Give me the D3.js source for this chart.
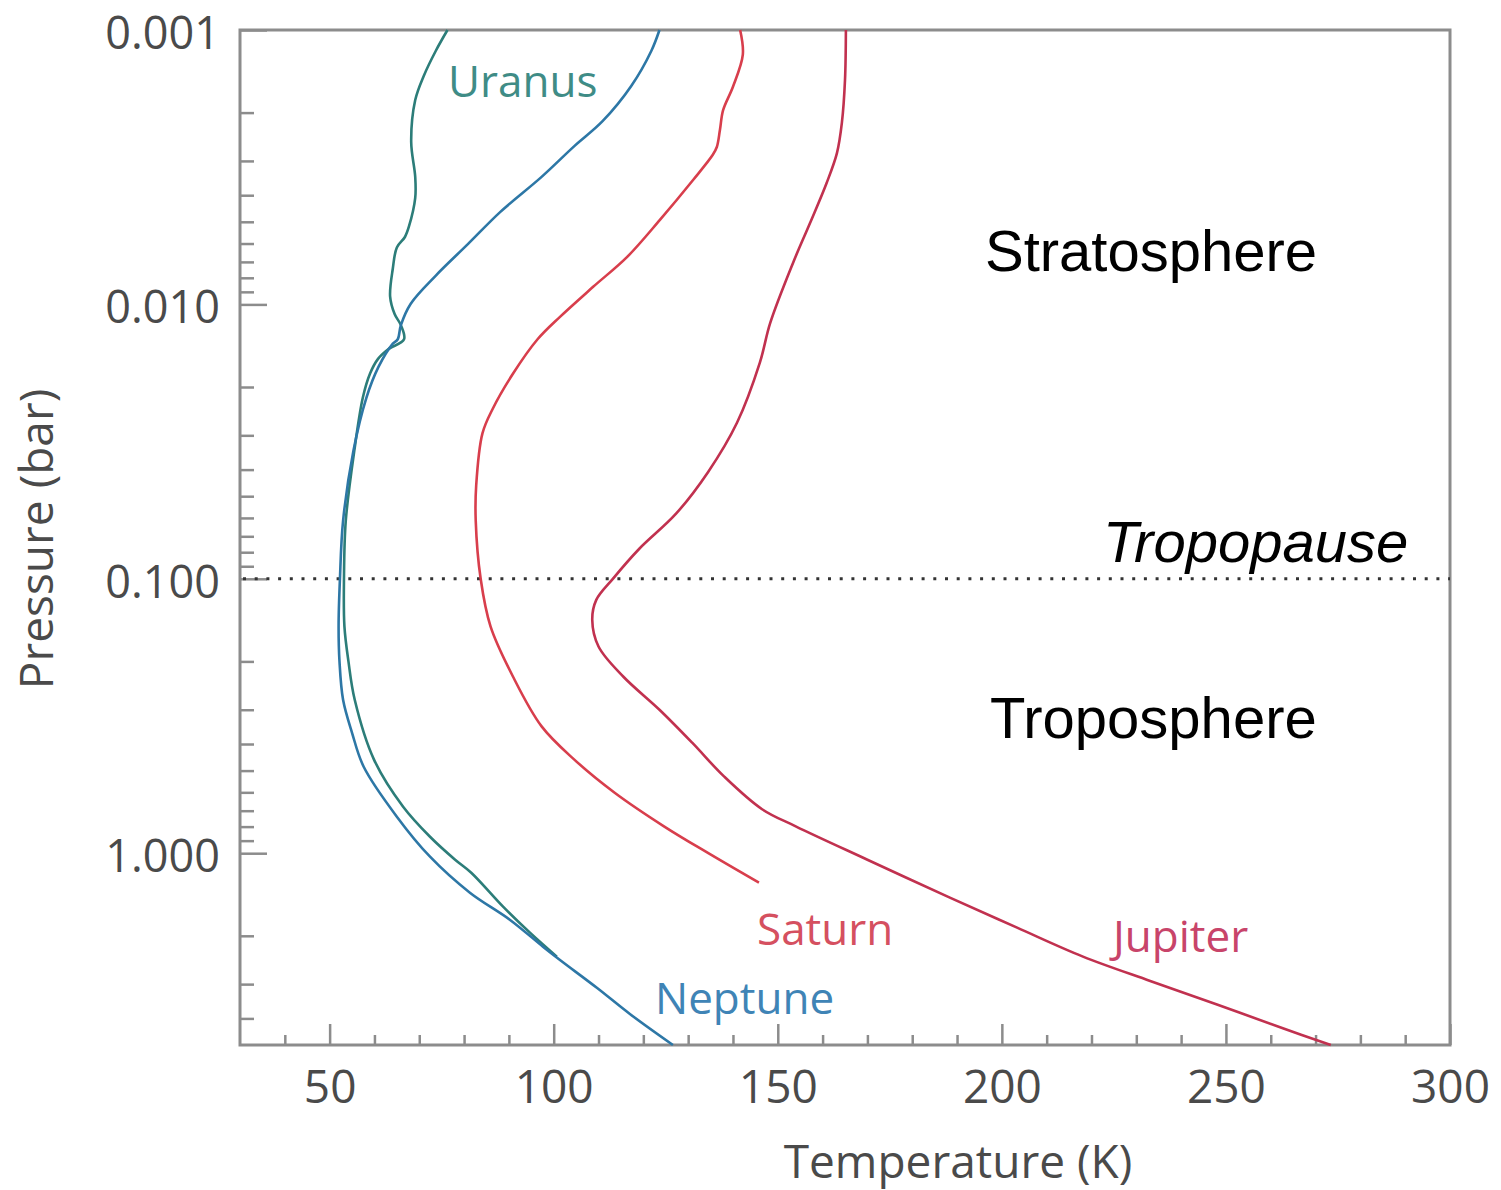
<!DOCTYPE html>
<html>
<head>
<meta charset="utf-8">
<script src="https://cdn.jsdelivr.net/npm/d3@7"></script>
<style>
  html, body { margin: 0; padding: 0; background: #ffffff; }
  svg { display: block; }
</style>
</head>
<body>
<svg id="chart" width="1501" height="1190"></svg>
<script>
// ---------- data: [temperature K, pressure bar] ----------
const uranus = [
  [76.3, 0.0010], [73.7, 0.00119], [71.0, 0.00147], [69.1, 0.0018], [68.2, 0.00256],
  [69.1, 0.00343], [69.1, 0.00409], [67.7, 0.0052], [66.8, 0.00568], [65.0, 0.0062],
  [64.1, 0.0074], [63.5, 0.00937], [64.5, 0.01084], [65.9, 0.0119], [66.6, 0.0134],
  [63.0, 0.0146], [60.8, 0.0158], [59.0, 0.0179], [57.4, 0.0219], [55.5, 0.0342],
  [53.6, 0.0615], [53.2, 0.1], [53.3, 0.149], [54.2, 0.2], [55.6, 0.276],
  [59.9, 0.456], [66.4, 0.677], [72.4, 0.871], [78.0, 1.056], [81.6, 1.178],
  [88.7, 1.566], [94.7, 1.948], [100.7, 2.382]
];
const neptune = [
  [123.6, 0.0010], [121.8, 0.00119], [117.3, 0.0016], [110.9, 0.00215], [104.6, 0.00265],
  [97.3, 0.00343], [88.1, 0.0046], [80.9, 0.00602], [73.7, 0.00785], [68.1, 0.00994],
  [65.9, 0.0119], [65.2, 0.0134], [64.1, 0.0139], [60.9, 0.0169], [58.2, 0.0219],
  [55.3, 0.0342], [53.0, 0.0615], [52.3, 0.1], [52.0, 0.149], [52.2, 0.2],
  [53.0, 0.276], [55.0, 0.364], [57.6, 0.484], [65.0, 0.736], [72.4, 1.03],
  [81.3, 1.393], [90.2, 1.747], [97.6, 2.191], [101.4, 2.45], [109.7, 3.10],
  [117.0, 3.855], [126.6, 5.0]
];
const saturn = [
  [141.6, 0.0010], [142.2, 0.00123], [140.0, 0.00161], [137.8, 0.00196], [137.1, 0.00231],
  [136.4, 0.00267], [135.5, 0.00285], [131.1, 0.00352], [123.7, 0.00492], [116.4, 0.00671],
  [108.8, 0.00863], [101.4, 0.0111], [96.4, 0.0134], [90.9, 0.0179], [86.4, 0.024],
  [84.1, 0.0295], [82.7, 0.0458], [82.6, 0.0615], [83.7, 0.1], [85.9, 0.149],
  [90.9, 0.227], [97.3, 0.345], [104.6, 0.456], [113.6, 0.602], [124.6, 0.798],
  [134.5, 1.0], [145.8, 1.281]
];
const jupiter = [
  [165.2, 0.0010], [165.0, 0.00152], [164.3, 0.00218], [163.2, 0.00281], [160.9, 0.00361],
  [157.2, 0.00505], [153.4, 0.00706], [148.3, 0.0117], [146.0, 0.0163], [140.9, 0.027],
  [134.5, 0.0407], [127.3, 0.0579], [119.1, 0.0777], [113.2, 0.1], [109.5, 0.1193],
  [108.6, 0.141], [110.0, 0.1765], [115.5, 0.227], [123.6, 0.300], [130.9, 0.3957],
  [138.0, 0.525], [146.5, 0.6914], [154.0, 0.798], [170.0, 1.056], [188.4, 1.452],
  [203.4, 1.868], [218.1, 2.382], [233.1, 2.922], [248.0, 3.559], [262.7, 4.345],
  [273.4, 5.0]
];
const xMajorTicks = [50, 100, 150, 200, 250, 300];
const xMinorTicks = [40, 60, 70, 80, 90, 110, 120, 130, 140, 160, 170, 180, 190, 210, 220, 230, 240, 260, 270, 280, 290];
const yMajorTicks = [0.001, 0.01, 0.1, 1];
const yTickLabels = ["0.001", "0.010", "0.100", "1.000"];
const tropopausePressure = 0.1;

const series = [
  { name: "Uranus",  data: uranus,  line: "#2c7d79", label: "#3f8c86", lx: 448,  ly: 97 },
  { name: "Neptune", data: neptune, line: "#2d77a6", label: "#3f84b6", lx: 655,  ly: 1014 },
  { name: "Saturn",  data: saturn,  line: "#d83e4c", label: "#d55060", lx: 757,  ly: 945 },
  { name: "Jupiter", data: jupiter, line: "#c1314f", label: "#c8446a", lx: 1113, ly: 952 }
];
const zones = [
  { text: "Stratosphere", x: 985,  y: 271, italic: false },
  { text: "Tropopause",   x: 1103, y: 562, italic: true },
  { text: "Troposphere",  x: 990,  y: 738, italic: false }
];

// ---------- layout ----------
const L = 240, R = 1450, T = 30, B = 1045;
const svg = d3.select("#chart");
const x = d3.scaleLinear().domain([30, 300]).range([L, R]);
const y = d3.scaleLog().domain([0.001, 5]).range([T, B]);

const axisFont = "'Open Sans', 'Noto Sans', sans-serif";
const axisColor = "#8c8c8c";
const textColor = "#4a4a4a";

// minor y ticks
const yMinor = y.ticks().filter(v => Math.abs(Math.log10(v) - Math.round(Math.log10(v))) > 1e-6 && v < 5);

// y axis minor
svg.append("g").attr("transform", `translate(${L},0)`)
  .call(d3.axisLeft(y).tickValues(yMinor).tickSize(-14).tickFormat(""))
  .call(g => g.select(".domain").remove())
  .call(g => g.selectAll("line").attr("stroke", axisColor).attr("stroke-width", 2.5));

// y axis major
svg.append("g").attr("transform", `translate(${L},0)`)
  .call(d3.axisLeft(y).tickValues(yMajorTicks).tickSize(-27).tickPadding(20)
        .tickFormat((d, i) => yTickLabels[i]))
  .call(g => g.select(".domain").remove())
  .call(g => g.selectAll("line").attr("stroke", axisColor).attr("stroke-width", 2.5))
  .call(g => g.selectAll("text").attr("font-family", axisFont).attr("font-size", 45)
        .attr("fill", textColor).attr("dy", "0.41em"));

// x axis minor
svg.append("g").attr("transform", `translate(0,${B})`)
  .call(d3.axisBottom(x).tickValues(xMinorTicks).tickSize(-10).tickFormat(""))
  .call(g => g.select(".domain").remove())
  .call(g => g.selectAll("line").attr("stroke", axisColor).attr("stroke-width", 2.5));

// x axis major
svg.append("g").attr("transform", `translate(0,${B})`)
  .call(d3.axisBottom(x).tickValues(xMajorTicks).tickSize(-21).tickPadding(25).tickFormat(d3.format("d")))
  .call(g => g.select(".domain").remove())
  .call(g => g.selectAll("line").attr("stroke", axisColor).attr("stroke-width", 2.5))
  .call(g => g.selectAll("text").attr("font-family", axisFont).attr("font-size", 46)
        .attr("fill", textColor));

// frame
svg.append("rect")
  .attr("x", x(30)).attr("y", y(0.001))
  .attr("width", x(300) - x(30)).attr("height", y(5) - y(0.001))
  .attr("fill", "none").attr("stroke", axisColor).attr("stroke-width", 3);

// tropopause dotted line
svg.append("line")
  .attr("x1", x(30) + 3).attr("x2", x(300))
  .attr("y1", y(tropopausePressure)).attr("y2", y(tropopausePressure))
  .attr("stroke", "#333").attr("stroke-width", 3).attr("stroke-dasharray", "3,8.7");

// profiles
const line = d3.line()
  .x(d => x(d[0])).y(d => y(d[1]))
  .curve(d3.curveCatmullRom.alpha(0.5));

svg.append("g").selectAll("path").data(series).join("path")
  .attr("d", d => line(d.data))
  .attr("fill", "none")
  .attr("stroke", d => d.line)
  .attr("stroke-width", 2.6)
  .attr("stroke-linejoin", "round");

// planet labels
svg.append("g").selectAll("text").data(series).join("text")
  .attr("x", d => d.lx).attr("y", d => d.ly)
  .attr("font-family", axisFont).attr("font-size", 44)
  .attr("fill", d => d.label)
  .text(d => d.name);

// zone labels
svg.append("g").selectAll("text").data(zones).join("text")
  .attr("x", d => d.x).attr("y", d => d.y)
  .attr("font-family", "'Liberation Sans', Arial, sans-serif")
  .attr("font-size", 58)
  .attr("font-style", d => d.italic ? "italic" : "normal")
  .attr("fill", "#000")
  .text(d => d.text);

// axis titles
svg.append("text")
  .attr("x", 958).attr("y", 1178)
  .attr("text-anchor", "middle")
  .attr("font-family", axisFont).attr("font-size", 46).attr("fill", textColor)
  .text("Temperature (K)");

svg.append("text")
  .attr("transform", "translate(53,539) rotate(-90)")
  .attr("text-anchor", "middle")
  .attr("font-family", axisFont).attr("font-size", 46).attr("fill", textColor)
  .text("Pressure (bar)");
</script>
</body>
</html>
